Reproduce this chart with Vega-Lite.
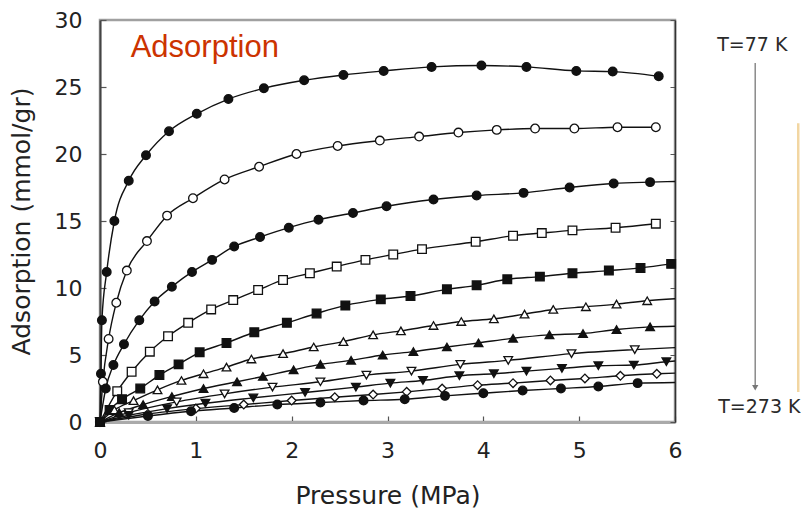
{
  "$schema": "https://vega.github.io/schema/vega-lite/v6.json",
  "width": 575,
  "height": 402,
  "autosize": {"type": "none"},
  "padding": {"left": 100, "top": 20, "right": 126, "bottom": 92},
  "background": "white",
  "config": {
    "view": {"stroke": "#a0a0a0", "strokeWidth": 2.5},
    "font": "DejaVu Sans"
  },
  "datasets": {
    "iso": [
      {"c":1,"p":0,"q":0,"k":"m"},{"c":1,"p":0.01,"q":3.6,"k":"m"},{"c":1,"p":0.02,"q":7.6,"k":"m"},{"c":1,"p":0.07,"q":11.2,"k":"m"},{"c":1,"p":0.15,"q":15.0,"k":"m"},{"c":1,"p":0.30,"q":18.0,"k":"m"},{"c":1,"p":0.48,"q":19.9,"k":"m"},{"c":1,"p":0.72,"q":21.7,"k":"m"},{"c":1,"p":1.01,"q":23.0,"k":"m"},{"c":1,"p":1.34,"q":24.1,"k":"m"},{"c":1,"p":1.71,"q":24.9,"k":"m"},{"c":1,"p":2.13,"q":25.5,"k":"m"},{"c":1,"p":2.54,"q":25.9,"k":"m"},{"c":1,"p":2.96,"q":26.2,"k":"m"},{"c":1,"p":3.46,"q":26.5,"k":"m"},{"c":1,"p":3.98,"q":26.6,"k":"m"},{"c":1,"p":4.45,"q":26.5,"k":"m"},{"c":1,"p":4.97,"q":26.2,"k":"m"},{"c":1,"p":5.35,"q":26.15,"k":"m"},{"c":1,"p":5.83,"q":25.8,"k":"m"},
      {"c":2,"p":0,"q":0,"k":"m"},{"c":2,"p":0.03,"q":3.0,"k":"m"},{"c":2,"p":0.09,"q":6.2,"k":"m"},{"c":2,"p":0.17,"q":8.9,"k":"m"},{"c":2,"p":0.28,"q":11.3,"k":"m"},{"c":2,"p":0.49,"q":13.5,"k":"m"},{"c":2,"p":0.70,"q":15.4,"k":"m"},{"c":2,"p":0.97,"q":16.7,"k":"m"},{"c":2,"p":1.30,"q":18.1,"k":"m"},{"c":2,"p":1.66,"q":19.05,"k":"m"},{"c":2,"p":2.05,"q":20.0,"k":"m"},{"c":2,"p":2.48,"q":20.6,"k":"m"},{"c":2,"p":2.92,"q":21.0,"k":"m"},{"c":2,"p":3.33,"q":21.3,"k":"m"},{"c":2,"p":3.74,"q":21.6,"k":"m"},{"c":2,"p":4.14,"q":21.8,"k":"m"},{"c":2,"p":4.54,"q":21.9,"k":"m"},{"c":2,"p":4.95,"q":21.9,"k":"m"},{"c":2,"p":5.40,"q":22.0,"k":"m"},{"c":2,"p":5.80,"q":22.0,"k":"m"},
      {"c":3,"p":0,"q":0,"k":"m"},{"c":3,"p":0.06,"q":2.5,"k":"m"},{"c":3,"p":0.14,"q":4.25,"k":"m"},{"c":3,"p":0.25,"q":5.8,"k":"m"},{"c":3,"p":0.41,"q":7.6,"k":"m"},{"c":3,"p":0.57,"q":9.0,"k":"m"},{"c":3,"p":0.75,"q":10.1,"k":"m"},{"c":3,"p":0.96,"q":11.2,"k":"m"},{"c":3,"p":1.17,"q":12.1,"k":"m"},{"c":3,"p":1.40,"q":13.1,"k":"m"},{"c":3,"p":1.67,"q":13.8,"k":"m"},{"c":3,"p":1.97,"q":14.5,"k":"m"},{"c":3,"p":2.28,"q":15.1,"k":"m"},{"c":3,"p":2.64,"q":15.6,"k":"m"},{"c":3,"p":2.99,"q":16.1,"k":"m"},{"c":3,"p":3.48,"q":16.6,"k":"m"},{"c":3,"p":3.93,"q":16.9,"k":"m"},{"c":3,"p":4.42,"q":17.1,"k":"m"},{"c":3,"p":4.90,"q":17.5,"k":"m"},{"c":3,"p":5.36,"q":17.8,"k":"m"},{"c":3,"p":5.74,"q":17.9,"k":"m"},{"c":3,"p":6.0,"q":17.95,"k":"f"},
      {"c":4,"p":0,"q":0,"k":"m"},{"c":4,"p":0.18,"q":2.3,"k":"m"},{"c":4,"p":0.33,"q":3.75,"k":"m"},{"c":4,"p":0.52,"q":5.25,"k":"m"},{"c":4,"p":0.71,"q":6.4,"k":"m"},{"c":4,"p":0.92,"q":7.4,"k":"m"},{"c":4,"p":1.16,"q":8.4,"k":"m"},{"c":4,"p":1.39,"q":9.1,"k":"m"},{"c":4,"p":1.65,"q":9.85,"k":"m"},{"c":4,"p":1.91,"q":10.6,"k":"m"},{"c":4,"p":2.19,"q":11.1,"k":"m"},{"c":4,"p":2.47,"q":11.6,"k":"m"},{"c":4,"p":2.77,"q":12.1,"k":"m"},{"c":4,"p":3.06,"q":12.5,"k":"m"},{"c":4,"p":3.36,"q":12.9,"k":"m"},{"c":4,"p":3.92,"q":13.45,"k":"m"},{"c":4,"p":4.31,"q":13.9,"k":"m"},{"c":4,"p":4.61,"q":14.1,"k":"m"},{"c":4,"p":4.93,"q":14.3,"k":"m"},{"c":4,"p":5.38,"q":14.5,"k":"m"},{"c":4,"p":5.80,"q":14.8,"k":"m"},
      {"c":5,"p":0,"q":0,"k":"m"},{"c":5,"p":0.10,"q":0.9,"k":"m"},{"c":5,"p":0.23,"q":1.7,"k":"m"},{"c":5,"p":0.42,"q":2.5,"k":"m"},{"c":5,"p":0.62,"q":3.5,"k":"m"},{"c":5,"p":0.82,"q":4.3,"k":"m"},{"c":5,"p":1.04,"q":5.2,"k":"m"},{"c":5,"p":1.32,"q":5.9,"k":"m"},{"c":5,"p":1.61,"q":6.7,"k":"m"},{"c":5,"p":1.95,"q":7.4,"k":"m"},{"c":5,"p":2.26,"q":8.1,"k":"m"},{"c":5,"p":2.56,"q":8.7,"k":"m"},{"c":5,"p":2.93,"q":9.15,"k":"m"},{"c":5,"p":3.24,"q":9.4,"k":"m"},{"c":5,"p":3.62,"q":9.9,"k":"m"},{"c":5,"p":3.93,"q":10.2,"k":"m"},{"c":5,"p":4.25,"q":10.65,"k":"m"},{"c":5,"p":4.59,"q":10.85,"k":"m"},{"c":5,"p":4.93,"q":11.1,"k":"m"},{"c":5,"p":5.31,"q":11.3,"k":"m"},{"c":5,"p":5.64,"q":11.5,"k":"m"},{"c":5,"p":5.96,"q":11.8,"k":"m"},
      {"c":6,"p":0,"q":0,"k":"m"},{"c":6,"p":0.15,"q":0.9,"k":"m"},{"c":6,"p":0.35,"q":1.6,"k":"m"},{"c":6,"p":0.60,"q":2.4,"k":"m"},{"c":6,"p":0.85,"q":3.1,"k":"m"},{"c":6,"p":1.08,"q":3.6,"k":"m"},{"c":6,"p":1.32,"q":4.1,"k":"m"},{"c":6,"p":1.58,"q":4.7,"k":"m"},{"c":6,"p":1.91,"q":5.1,"k":"m"},{"c":6,"p":2.23,"q":5.6,"k":"m"},{"c":6,"p":2.54,"q":6.0,"k":"m"},{"c":6,"p":2.85,"q":6.5,"k":"m"},{"c":6,"p":3.14,"q":6.8,"k":"m"},{"c":6,"p":3.48,"q":7.2,"k":"m"},{"c":6,"p":3.77,"q":7.5,"k":"m"},{"c":6,"p":4.11,"q":7.7,"k":"m"},{"c":6,"p":4.43,"q":8.05,"k":"m"},{"c":6,"p":4.73,"q":8.4,"k":"m"},{"c":6,"p":5.07,"q":8.6,"k":"m"},{"c":6,"p":5.39,"q":8.8,"k":"m"},{"c":6,"p":5.71,"q":9.05,"k":"m"},{"c":6,"p":6.0,"q":9.2,"k":"f"},
      {"c":7,"p":0,"q":0,"k":"m"},{"c":7,"p":0.20,"q":0.7,"k":"m"},{"c":7,"p":0.45,"q":1.3,"k":"m"},{"c":7,"p":0.75,"q":1.9,"k":"m"},{"c":7,"p":1.08,"q":2.5,"k":"m"},{"c":7,"p":1.43,"q":3.0,"k":"m"},{"c":7,"p":1.70,"q":3.4,"k":"m"},{"c":7,"p":2.02,"q":3.9,"k":"m"},{"c":7,"p":2.30,"q":4.3,"k":"m"},{"c":7,"p":2.62,"q":4.6,"k":"m"},{"c":7,"p":2.95,"q":5.0,"k":"m"},{"c":7,"p":3.27,"q":5.25,"k":"m"},{"c":7,"p":3.62,"q":5.6,"k":"m"},{"c":7,"p":3.95,"q":5.9,"k":"m"},{"c":7,"p":4.31,"q":6.25,"k":"m"},{"c":7,"p":4.69,"q":6.5,"k":"m"},{"c":7,"p":5.04,"q":6.6,"k":"m"},{"c":7,"p":5.39,"q":6.9,"k":"m"},{"c":7,"p":5.74,"q":7.1,"k":"m"},{"c":7,"p":6.0,"q":7.15,"k":"f"},
      {"c":8,"p":0,"q":0,"k":"m"},{"c":8,"p":0.30,"q":0.7,"k":"m"},{"c":8,"p":0.80,"q":1.5,"k":"m"},{"c":8,"p":1.30,"q":2.1,"k":"m"},{"c":8,"p":1.80,"q":2.6,"k":"m"},{"c":8,"p":2.30,"q":3.0,"k":"m"},{"c":8,"p":2.78,"q":3.5,"k":"m"},{"c":8,"p":3.25,"q":3.8,"k":"m"},{"c":8,"p":3.76,"q":4.3,"k":"m"},{"c":8,"p":4.26,"q":4.6,"k":"m"},{"c":8,"p":4.92,"q":5.1,"k":"m"},{"c":8,"p":5.58,"q":5.4,"k":"m"},{"c":8,"p":6.0,"q":5.55,"k":"f"},
      {"c":9,"p":0,"q":0,"k":"m"},{"c":9,"p":0.30,"q":0.5,"k":"m"},{"c":9,"p":0.70,"q":1.0,"k":"m"},{"c":9,"p":1.10,"q":1.4,"k":"m"},{"c":9,"p":1.60,"q":1.8,"k":"m"},{"c":9,"p":2.14,"q":2.2,"k":"m"},{"c":9,"p":2.67,"q":2.6,"k":"m"},{"c":9,"p":3.03,"q":2.9,"k":"m"},{"c":9,"p":3.37,"q":3.1,"k":"m"},{"c":9,"p":3.75,"q":3.45,"k":"m"},{"c":9,"p":4.11,"q":3.6,"k":"m"},{"c":9,"p":4.45,"q":3.8,"k":"m"},{"c":9,"p":4.82,"q":4.0,"k":"m"},{"c":9,"p":5.20,"q":4.2,"k":"m"},{"c":9,"p":5.57,"q":4.25,"k":"m"},{"c":9,"p":5.91,"q":4.5,"k":"m"},{"c":9,"p":6.0,"q":4.55,"k":"f"},
      {"c":10,"p":0,"q":0,"k":"m"},{"c":10,"p":0.50,"q":0.6,"k":"m"},{"c":10,"p":1.00,"q":1.0,"k":"m"},{"c":10,"p":1.50,"q":1.3,"k":"m"},{"c":10,"p":2.00,"q":1.6,"k":"m"},{"c":10,"p":2.45,"q":1.85,"k":"m"},{"c":10,"p":2.85,"q":2.05,"k":"m"},{"c":10,"p":3.20,"q":2.25,"k":"m"},{"c":10,"p":3.57,"q":2.5,"k":"m"},{"c":10,"p":3.94,"q":2.75,"k":"m"},{"c":10,"p":4.31,"q":2.9,"k":"m"},{"c":10,"p":4.70,"q":3.1,"k":"m"},{"c":10,"p":5.06,"q":3.25,"k":"m"},{"c":10,"p":5.43,"q":3.45,"k":"m"},{"c":10,"p":5.81,"q":3.6,"k":"m"},{"c":10,"p":6.0,"q":3.65,"k":"f"},
      {"c":11,"p":0,"q":0,"k":"m"},{"c":11,"p":0.50,"q":0.45,"k":"m"},{"c":11,"p":0.95,"q":0.8,"k":"m"},{"c":11,"p":1.40,"q":1.05,"k":"m"},{"c":11,"p":1.85,"q":1.3,"k":"m"},{"c":11,"p":2.30,"q":1.45,"k":"m"},{"c":11,"p":2.75,"q":1.6,"k":"m"},{"c":11,"p":3.18,"q":1.7,"k":"m"},{"c":11,"p":3.60,"q":1.95,"k":"m"},{"c":11,"p":4.00,"q":2.15,"k":"m"},{"c":11,"p":4.41,"q":2.35,"k":"m"},{"c":11,"p":4.81,"q":2.5,"k":"m"},{"c":11,"p":5.20,"q":2.65,"k":"m"},{"c":11,"p":5.61,"q":2.9,"k":"m"},{"c":11,"p":6.0,"q":2.95,"k":"f"}
    ]
  },
  "resolve": {"axis": {"y": "independent"}},
  "layer": [
    {
      "data": {"name": "iso"},
      "mark": {"type": "line", "interpolate": "monotone", "color": "#111", "strokeWidth": 1.4},
      "encoding": {
        "x": {"field": "p", "type": "quantitative", "scale": {"domain": [0, 6], "nice": false},
          "axis": {"values": [0,1,2,3,4,5,6], "format": "d", "labelFlush": false, "title": "Pressure (MPa)", "titleFontSize": 25, "titleFontWeight": "normal", "titleColor": "#222", "titlePadding": 22,
            "labelFontSize": 22, "labelColor": "#222", "labelPadding": 24, "tickSize": -6, "tickColor": "#555", "tickWidth": 1.2, "domainColor": "#aaa", "domainWidth": 3, "grid": false}},
        "y": {"field": "q", "type": "quantitative", "scale": {"domain": [0, 30], "nice": false},
          "axis": {"values": [0,5,10,15,20,25,30], "format": "d", "labelFlush": false, "title": "Adsorption (mmol/gr)", "titleFontSize": 25, "titleFontWeight": "normal", "titleColor": "#222", "titlePadding": 20,
            "labelFontSize": 22, "labelColor": "#222", "labelPadding": 24, "tickSize": -6, "tickColor": "#555", "tickWidth": 1.2, "domainColor": "#444", "domainWidth": 2, "grid": false}},
        "detail": {"field": "c", "type": "nominal"}
      }
    },
    {
      "data": {"name": "iso"},
      "transform": [{"filter": "datum.k == 'm'"}],
      "mark": {"type": "point", "stroke": "#111", "strokeWidth": 1.3, "opacity": 1, "size": 75},
      "encoding": {
        "x": {"field": "p", "type": "quantitative"},
        "y": {"field": "q", "type": "quantitative",
          "axis": {"orient": "right", "values": [0,5,10,15,20,25,30], "labels": false, "title": null, "tickSize": -5, "tickColor": "#555", "domainColor": "#333", "domainWidth": 1.5, "grid": false}},
        "shape": {"field": "c", "type": "nominal", "legend": null,
          "scale": {"domain": [1,2,3,4,5,6,7,8,9,10,11], "range": ["circle","circle","circle","square","square","triangle-up","triangle-up","triangle-down","triangle-down","diamond","circle"]}},
        "fill": {"field": "c", "type": "nominal", "legend": null,
          "scale": {"domain": [1,2,3,4,5,6,7,8,9,10,11], "range": ["#111","white","#111","white","#111","white","#111","white","#111","white","#111"]}}
      }
    },
    {
      "data": {"values": [{"t": "Adsorption", "p": 0.32, "q": 27.26}]},
      "mark": {"type": "text", "font": "Liberation Sans", "fontSize": 31, "color": "#cc3300", "align": "left", "baseline": "alphabetic"},
      "encoding": {"x": {"field": "p", "type": "quantitative"}, "y": {"field": "q", "type": "quantitative", "axis": null}, "text": {"field": "t"}}
    },
    {
      "data": {"values": [{"t": "T=77 K", "p": 6.806, "q": 28.13}, {"t": "T=273 K", "p": 6.88, "q": 1.12}]},
      "mark": {"type": "text", "font": "DejaVu Sans", "fontSize": 19, "color": "#2a2a2a", "align": "center", "baseline": "middle"},
      "encoding": {"x": {"field": "p", "type": "quantitative"}, "y": {"field": "q", "type": "quantitative", "axis": null}, "text": {"field": "t"}}
    },
    {
      "data": {"values": [{"p": 6.837, "q1": 26.8, "q2": 2.6}]},
      "mark": {"type": "rule", "color": "#8a8a8a", "strokeWidth": 1.5},
      "encoding": {"x": {"field": "p", "type": "quantitative"}, "y": {"field": "q1", "type": "quantitative", "axis": null}, "y2": {"field": "q2"}}
    },
    {
      "data": {"values": [{"p": 6.837, "q": 2.55}]},
      "mark": {"type": "point", "shape": "triangle-down", "filled": true, "color": "#777", "size": 40, "opacity": 1},
      "encoding": {"x": {"field": "p", "type": "quantitative"}, "y": {"field": "q", "type": "quantitative", "axis": null}}
    },
    {
      "data": {"values": [{"p": 7.286, "q1": 22.3, "q2": 2.24}]},
      "mark": {"type": "rule", "color": "#f2d6a2", "strokeWidth": 2.5},
      "encoding": {"x": {"field": "p", "type": "quantitative"}, "y": {"field": "q1", "type": "quantitative", "axis": null}, "y2": {"field": "q2"}}
    }
  ]
}
